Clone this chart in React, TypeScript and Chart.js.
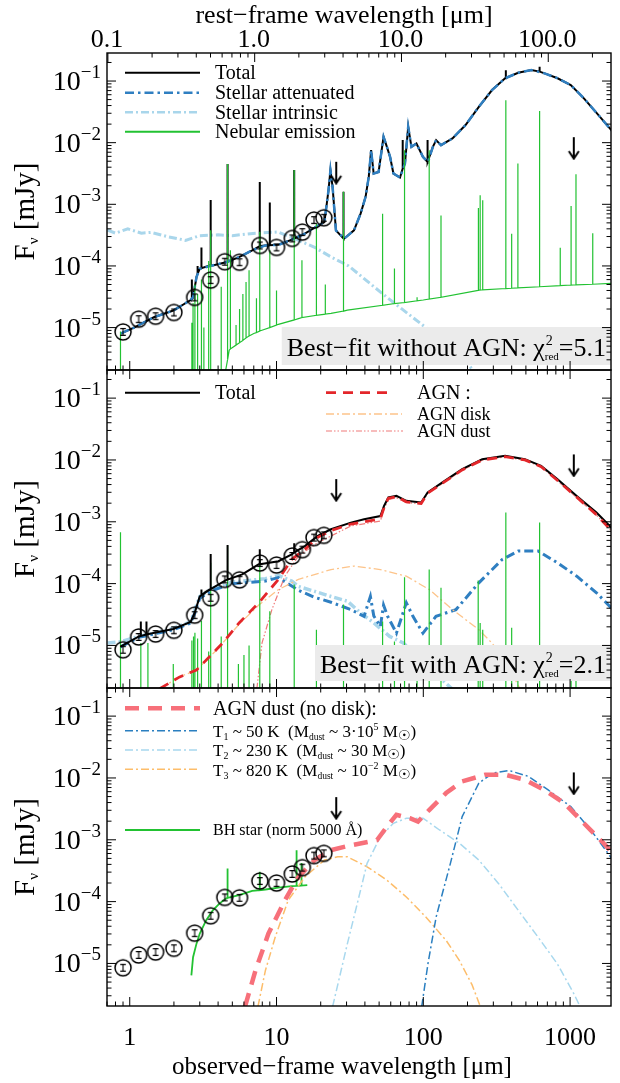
import React, { useEffect, useRef } from "react";
import { Chart, registerables } from "chart.js";

Chart.register(...registerables);

type Pt = [number, number];
type Spike = [number, number, number]; // [wavelength, base, peak]

// ---------- axes ----------
const X_MIN = 0.7;
const X_MAX = 1900;
const Y_MIN = 2.05e-6;
const Y_MAX = 0.285;
const ONE_PLUS_Z = 7.1;
const obsTicks = [1, 10, 100, 1000];
const obsTickLabels = ["1", "10", "100", "1000"];
const restTicks = [0.1, 1, 10, 100];
const restTickLabels = ["0.1", "1.0", "10.0", "100.0"];
const yTickExponents = [-1, -2, -3, -4, -5];

// ---------- photometry ----------
const photLambda = [0.9, 1.15, 1.5, 2.0, 2.77, 3.56, 4.44, 5.6, 7.7, 10.0, 12.8, 15.0, 18.0, 21.0];
const photFlux = [8.5e-6, 1.37e-5, 1.53e-5, 1.76e-5, 3.09e-5, 5.9e-5, 1.17e-4, 1.15e-4, 2.15e-4, 2.0e-4, 2.8e-4, 3.54e-4, 5.55e-4, 6.04e-4];
const limLambda = [25.5, 1060];
const limFlux = [4.9e-3, 1.23e-2];

// ---------- panel 1: without AGN ----------
const stellarAttTop: Pt[] = [
  [0.865, 8.0e-6], [1.07, 1.0e-5], [1.46, 1.47e-5], [1.98, 1.89e-5], [2.57, 2.75e-5], [2.7, 3.1e-5],
  [2.85, 6.6e-5], [3.0, 9.0e-5], [3.68, 1.02e-4], [4.52, 1.15e-4], [5.56, 1.39e-4], [6.83, 1.79e-4],
  [8.4, 2.15e-4], [10.3, 2.2e-4], [12.7, 2.67e-4], [15.6, 3.34e-4], [18.2, 4.2e-4], [21.2, 5.15e-4],
  [22.6, 1.69e-3], [23.3, 3.57e-3], [24.1, 1.91e-3], [25.4, 3.78e-4], [28.9, 2.77e-4], [33.7, 3.78e-4],
  [37.4, 7.06e-4], [40.4, 1.31e-3], [42.5, 2.78e-3], [44.1, 7.55e-3], [45.9, 3.16e-3], [49.6, 3.35e-3],
  [53.6, 1.24e-2], [56.5, 8.55e-3], [59.4, 5.87e-3], [62.6, 3.16e-3], [69.4, 2.72e-3], [75, 4.59e-3],
  [78.9, 1.81e-2], [83, 8.55e-3], [89.8, 9.7e-3], [99.5, 5.87e-3], [107.6, 4.87e-3], [116.2, 8.55e-3],
  [122.3, 1.1e-2], [132, 9.1e-3], [158, 1.17e-2], [194, 1.93e-2], [239, 3.82e-2], [294, 7.14e-2],
  [361, 0.111], [443, 0.136], [545, 0.151], [670, 0.133], [822, 0.111], [1011, 0.086], [1242, 0.0524],
  [1525, 0.0298], [1953, 0.015],
];
const totalTopSpikes: Spike[] = [
  [2.65, 2.9e-5, 6e-5], [2.9, 7.5e-5, 1.0e-4], [3.08, 9.2e-5, 2.0e-4], [3.56, 1.03e-4, 1.17e-3],
  [4.64, 1.17e-4, 4.5e-3], [7.69, 2.1e-4, 2.3e-3], [9.0, 2.17e-4, 1.07e-3], [13.2, 2.8e-4, 3.6e-3],
  [28.6, 2.8e-4, 1.6e-3], [72.4, 3.8e-3, 1.1e-2], [106.6, 4.9e-3, 1.1e-2], [365, 0.112, 0.15], [620, 0.142, 0.17],
];
const stellarIntTop: Pt[] = [
  [0.706, 3.8e-4], [0.8, 3.4e-4], [0.97, 4.0e-4], [1.2, 3.4e-4], [1.4, 3.5e-4], [1.8, 3.0e-4],
  [2.4, 2.6e-4], [3.0, 3.1e-4], [4.0, 3.2e-4], [5.0, 3.1e-4], [7.2, 3.4e-4], [10.3, 3.55e-4],
  [14.1, 2.6e-4], [18.2, 2.0e-4], [23.5, 1.4e-4], [31, 1.0e-4], [56.5, 3.1e-5], [104, 1.0e-5],
  [194, 2.9e-6], [240, 1.5e-6],
];
const nebContTop: Pt[] = [
  [4.4, 1.5e-6], [4.76, 4.3e-6], [7.0, 8.0e-6], [10.3, 1.13e-5], [14.1, 1.4e-5], [23.5, 1.7e-5],
  [30.4, 1.92e-5], [100, 2.8e-5], [239, 4.05e-5], [1900, 5.2e-5],
];
const nebSpikesTop: Spike[] = [
  [0.865, 1e-7, 8.6e-6], [2.65, 1e-7, 1.2e-5], [2.7, 1e-7, 2.5e-5], [2.78, 1e-7, 5.0e-5], [2.9, 1e-7, 3.5e-5],
  [3.08, 1e-7, 6e-5], [3.2, 1e-7, 1.0e-5], [3.45, 1e-7, 1.2e-4], [3.56, 1e-7, 3.8e-4], [4.2, 1e-7, 4.6e-5],
  [4.64, 3e-6, 4.5e-3], [4.85, 4.5e-6, 1.8e-4], [5.3, 5.2e-6, 1.1e-5], [5.6, 5.7e-6, 2.0e-5], [5.9, 6.2e-6, 3.5e-5],
  [6.2, 6.8e-6, 5.5e-5], [6.5, 7.3e-6, 8.5e-5], [7.3, 8.3e-6, 3.0e-5], [7.69, 8.8e-6, 3.6e-4], [9.0, 1.0e-5, 1.8e-4],
  [10.0, 1.1e-5, 4.0e-5], [13.2, 1.33e-5, 3.6e-3], [14.9, 1.45e-5, 1.24e-4], [18.7, 1.58e-5, 4.9e-4],
  [21.5, 1.65e-5, 5.0e-5], [28.6, 1.85e-5, 1.6e-3], [52.8, 2.3e-5, 7.06e-4], [63.6, 2.45e-5, 9.1e-5],
  [74.5, 2.55e-5, 7.55e-3], [90.7, 2.72e-5, 3.11e-5], [109.7, 2.9e-5, 7.55e-3], [132, 3.1e-5, 6.6e-4],
  [236.6, 4.0e-5, 8.7e-4], [244, 4.07e-5, 1.4e-3], [254, 4.1e-5, 1.16e-3], [365, 4.3e-5, 0.049],
  [400, 4.35e-5, 3.34e-4], [441, 4.4e-5, 4.6e-3], [620, 4.6e-5, 0.0325], [857, 4.8e-5, 1.98e-4],
  [1016, 4.9e-5, 9.4e-4], [1097, 4.95e-5, 3.08e-3], [1427, 5.05e-5, 3.4e-4],
];

// ---------- panel 2: with AGN ----------
const totalMid: Pt[] = [
  [0.865, 9.6e-6], [1.155, 1.4e-5], [1.53, 1.63e-5], [1.98, 1.85e-5], [2.6, 2.4e-5], [2.77, 3.36e-5],
  [3.0, 6.2e-5], [3.68, 8.55e-5], [4.52, 1.14e-4], [5.84, 1.41e-4], [7.57, 2.05e-4], [10.3, 2.3e-4],
  [12.7, 2.97e-4], [15.6, 4.05e-4], [19.1, 5.9e-4], [23.5, 7.56e-4], [32.1, 9.7e-4], [39.5, 1.1e-3],
  [51, 1.24e-3], [54, 1.8e-3], [57.8, 2.47e-3], [65.6, 2.62e-3], [76.6, 2.18e-3], [96.7, 2.05e-3],
  [107, 2.98e-3], [135, 4.33e-3], [184, 7.1e-3], [252, 1.03e-2], [361, 1.17e-2], [492, 1.03e-2],
  [635, 8.05e-3], [818, 4.9e-3], [1110, 2.62e-3], [1513, 1.41e-3], [1960, 7.56e-4],
];
const totalMidSpikes: Spike[] = [
  [1.19, 1.42e-5, 2.45e-5], [1.3, 1.5e-5, 2.45e-5], [3.08, 6.5e-5, 8.0e-5], [3.56, 8.2e-5, 3.0e-4],
  [4.64, 1.16e-4, 4.2e-4], [7.69, 2.06e-4, 3.6e-4], [13.2, 3.2e-4, 4.5e-4],
];
const agnMid: Pt[] = [
  [1.6, 2.0e-6], [2.19, 3.1e-6], [2.85, 4.0e-6], [3.88, 8.5e-6], [4.29, 1.09e-5], [5.56, 2.31e-5],
  [7.57, 4.9e-5], [10.3, 1.17e-4], [12.7, 2.46e-4], [15.6, 3.58e-4], [19.1, 5.6e-4], [23.5, 7.2e-4],
  [32.1, 9.2e-4], [39.5, 1.0e-3], [51, 1.12e-3], [54, 1.7e-3], [57.8, 2.4e-3], [65.6, 2.55e-3],
  [76.6, 2.1e-3], [96.7, 1.98e-3], [107, 2.9e-3], [135, 4.2e-3], [184, 6.9e-3], [252, 1.0e-2],
  [361, 1.13e-2], [492, 1.0e-2], [635, 7.8e-3], [818, 4.7e-3], [1110, 2.5e-3], [1513, 1.3e-3], [1960, 6.8e-4],
];
const agnDiskMid: Pt[] = [
  [1.6, 2.0e-6], [2.19, 3.1e-6], [2.85, 4.0e-6], [3.88, 8.3e-6], [5.56, 2.2e-5], [7.57, 4.5e-5],
  [10.3, 8.0e-5], [14.1, 1.17e-4], [23.5, 1.69e-4], [33.7, 1.92e-4], [51, 1.69e-4], [76.6, 1.32e-4],
  [110, 8.0e-5], [158, 3.8e-5], [239, 1.8e-5], [294, 1.09e-5], [361, 5.8e-6], [455, 2.0e-6],
];
const agnDustMid: Pt[] = [
  [7.35, 2.0e-6], [7.96, 1.09e-5], [9.3, 3.8e-5], [11.4, 1.32e-4], [14.1, 2.79e-4], [19.1, 4.6e-4],
  [32.1, 8.55e-4], [51, 1.03e-3], [54, 1.6e-3], [57.8, 2.3e-3], [65.6, 2.45e-3], [76.6, 2.05e-3],
  [96.7, 1.95e-3], [107, 2.85e-3], [135, 4.15e-3], [184, 6.85e-3], [252, 9.9e-3], [361, 1.12e-2],
  [492, 9.9e-3], [635, 7.7e-3], [818, 4.65e-3], [1110, 2.45e-3], [1513, 1.28e-3], [1960, 6.7e-4],
];
const stellarAttMid: Pt[] = [
  [0.865, 9.5e-6], [1.15, 1.35e-5], [1.5, 1.55e-5], [1.98, 1.8e-5], [2.6, 2.3e-5], [2.77, 3.3e-5],
  [3.0, 5.8e-5], [3.67, 7.8e-5], [5.01, 1.0e-4], [8.4, 1.1e-4], [10.3, 1.25e-4], [14.1, 7.8e-5],
  [18.2, 6.0e-5], [23.5, 5.0e-5], [32.1, 3.8e-5], [39.5, 2.96e-5], [43.6, 6.2e-5], [46, 3.0e-5],
  [51, 2.03e-5], [53.6, 4.5e-5], [57, 3.0e-5], [65.6, 1.58e-5], [76.6, 4.9e-5], [85, 2.96e-5],
  [99.5, 1.58e-5], [122, 2.96e-5], [167, 3.8e-5], [239, 1.03e-4], [345, 2.46e-4], [443, 3.36e-4],
  [605, 3.36e-4], [818, 2.18e-4], [1110, 1.32e-4], [1513, 7.1e-5], [1960, 3.8e-5],
];
const stellarIntMid: Pt[] = [
  [0.706, 1.1e-5], [0.87, 1.15e-5], [1.15, 1.4e-5], [1.5, 1.6e-5], [1.98, 1.9e-5], [2.6, 2.4e-5],
  [2.8, 4.0e-5], [3.0, 6.2e-5], [3.7, 8.5e-5], [5.0, 1.06e-4], [7.0, 1.15e-4], [8.4, 1.2e-4],
  [10.3, 1.35e-4], [12.7, 1.1e-4], [14.1, 9.0e-5], [18.2, 7.5e-5], [23.5, 6.2e-5], [30.4, 5.2e-5],
  [37.2, 3.4e-5], [45.9, 2.33e-5], [59, 1.4e-5], [73, 1.1e-5], [100, 5.5e-6], [130, 3.0e-6], [164, 1.8e-6],
];
const nebSpikesMid: Spike[] = [
  [0.865, 1e-7, 6.8e-4], [1.19, 1e-7, 1.1e-5], [1.33, 1e-7, 1.1e-5], [1.98, 1e-7, 5e-6], [2.65, 1e-7, 1.2e-5],
  [2.72, 1e-7, 1.4e-5], [2.78, 1e-7, 1.6e-5], [2.9, 1e-7, 1.3e-5], [3.08, 1e-7, 2.5e-5], [3.45, 1e-7, 8e-6],
  [3.56, 1e-7, 2.18e-4], [4.2, 1e-7, 1.4e-5], [4.64, 1e-7, 4.1e-4], [5.5, 1e-7, 5e-6], [6.0, 1e-7, 7e-6],
  [6.5, 1e-7, 1.0e-5], [7.69, 1e-7, 2.5e-4], [9.0, 1e-7, 3.56e-5], [13.2, 1e-7, 9.7e-5], [18.7, 1e-7, 1.8e-5],
  [28.6, 1e-7, 4.6e-5], [52.8, 1e-7, 2.45e-5], [63.6, 1e-7, 1.16e-5], [74.5, 1e-7, 1.27e-4], [90.7, 1e-7, 4e-6],
  [109.7, 1e-7, 1.69e-4], [132, 1e-7, 8.55e-5], [236.6, 1e-7, 1.12e-4], [244, 1e-7, 2.3e-5], [254, 1e-7, 1.8e-5],
  [365, 1e-7, 1.41e-3], [400, 1e-7, 1.94e-5], [441, 1e-7, 4e-6], [620, 1e-7, 9.7e-4], [1016, 1e-7, 3e-6],
  [1097, 1e-7, 4e-6],
];

// ---------- panel 3: AGN dust decomposition ----------
const agnDustNoDisk: Pt[] = [
  [6.1, 2.0e-6], [7.19, 7.7e-6], [8.8, 3.03e-5], [11.4, 1.05e-4], [14.1, 2.51e-4], [18.2, 4.7e-4],
  [23.5, 6.8e-4], [30.4, 7.9e-4], [48.4, 9.9e-4], [56.5, 1.63e-3], [65.6, 2.53e-3], [81, 2.23e-3],
  [92, 1.97e-3], [110, 3.05e-3], [143, 5.7e-3], [184, 8.8e-3], [265, 1.13e-2], [361, 1.13e-2],
  [492, 9.35e-3], [670, 6.4e-3], [912, 3.92e-3], [1242, 1.85e-3], [1692, 8.8e-4], [1960, 6.0e-4],
];
const dustT1: Pt[] = [
  [97.5, 2.0e-6], [107.6, 9.9e-6], [122.3, 5.65e-5], [153, 4.16e-4], [184, 2.37e-3], [239, 8.26e-3],
  [298, 1.2e-2], [384, 1.32e-2], [520, 1.06e-2], [709, 6.4e-3], [1011, 3.44e-3], [1384, 1.44e-3], [1960, 4.7e-4],
];
const dustT2: Pt[] = [
  [24.1, 2.0e-6], [30.4, 2.09e-5], [35.5, 9.3e-5], [41.4, 4.16e-4], [51, 1.12e-3], [62.6, 1.85e-3],
  [76.6, 2.23e-3], [99.5, 2.23e-3], [129, 1.44e-3], [176, 8.8e-4], [239, 4.7e-4], [325, 1.97e-4],
  [443, 7.25e-5], [605, 2.67e-5], [818, 9.9e-6], [1064, 3.2e-6], [1170, 2.0e-6],
];
const dustT3: Pt[] = [
  [7.47, 2.0e-6], [8.4, 7.7e-6], [9.8, 2.67e-5], [12.0, 1.05e-4], [15.6, 2.51e-4], [21.2, 4.7e-4],
  [26.1, 5.3e-4], [30.4, 5.3e-4], [41.4, 3.66e-4], [56.5, 2.22e-4], [76.6, 1.19e-4], [104, 5.65e-5],
  [143, 2.36e-5], [176, 1.12e-5], [215, 4.5e-6], [245, 2.0e-6],
];
const bhStar: Pt[] = [
  [2.63, 6.4e-6], [2.7, 1.26e-5], [2.85, 2.09e-5], [3.0, 3.04e-5], [3.32, 5.0e-5], [3.68, 7.25e-5],
  [4.08, 9.3e-5], [4.52, 1.12e-4], [5.56, 1.27e-4], [6.83, 1.49e-4], [8.4, 1.57e-4], [10.3, 1.69e-4],
  [12.7, 1.78e-4], [16.2, 1.85e-4],
];
const bhStarSpikes: Spike[] = [
  [4.64, 1.15e-4, 3.44e-4], [7.69, 1.53e-4, 3.03e-4], [13.7, 1.8e-4, 6.8e-4], [14.8, 1.82e-4, 4.2e-4],
];

// ---------- layout ----------
const PLOT_LEFT = 107;
const PLOT_RIGHT = 618;
const PANELS = [
  { top: 53, bottom: 370 },
  { top: 370, bottom: 688 },
  { top: 688, bottom: 1006 },
];

const SERIF = "'Liberation Serif', 'Times New Roman', Times, serif";
const SYM = "'DejaVu Sans', 'Noto Sans', sans-serif";

const C_BLUE = "#2f7fc1";
const C_LBLUE = "#a9d6eb";
const C_GREEN = "#22c232";
const C_RED = "#e3262a";
const C_DISK = "#fdc48a";
const C_DUST = "#f07a7a";
const C_PINK = "#f7707a";
const C_T1 = "#2a7fc0";
const C_T2 = "#a8d8ee";
const C_T3 = "#fdbd6a";

const DASH_DOT = [9, 4, 2.5, 4];
const DASH_DOT_THIN = [8, 3, 2, 3];
const DASH_DOT_DOT = [6, 2, 1.5, 2, 1.5, 2];

const toXY = (arr: Pt[]) => arr.map(([x, y]) => ({ x, y }));

function withSpikes(cont: Pt[], spikes: Spike[]) {
  const items: { x: number; y: number; k: number }[] = [];
  let k = 0;
  cont.forEach(([x, y]) => items.push({ x, y, k: k++ }));
  spikes.forEach(([x, b, p]) => {
    items.push({ x, y: b, k: k++ });
    items.push({ x, y: p, k: k++ });
    items.push({ x, y: b, k: k++ });
  });
  items.sort((a, b) => a.x - b.x || a.k - b.k);
  return items.map(({ x, y }) => ({ x, y }));
}

function lineDs(data: any[], color: string, width: number, dash: number[] = []) {
  return {
    data,
    borderColor: color,
    backgroundColor: color,
    borderWidth: width,
    borderDash: dash,
    pointRadius: 0,
    pointHoverRadius: 0,
    fill: false,
    tension: 0,
  };
}

function makeCircleGlyph() {
  const c = document.createElement("canvas");
  c.width = 22;
  c.height = 22;
  const g = c.getContext("2d")!;
  g.strokeStyle = "#000";
  g.lineWidth = 1.5;
  g.beginPath();
  g.arc(11, 11, 8, 0, Math.PI * 2);
  g.stroke();
  g.lineWidth = 1.1;
  g.beginPath();
  g.moveTo(11, 7.6);
  g.lineTo(11, 14.4);
  g.moveTo(8.2, 7.6);
  g.lineTo(13.8, 7.6);
  g.moveTo(8.2, 14.4);
  g.lineTo(13.8, 14.4);
  g.stroke();
  return c;
}

function makeArrowGlyph() {
  const c = document.createElement("canvas");
  c.width = 16;
  c.height = 46;
  const g = c.getContext("2d")!;
  g.strokeStyle = "#000";
  g.lineWidth = 2;
  g.beginPath();
  g.moveTo(8, 23);
  g.lineTo(8, 44);
  g.stroke();
  g.beginPath();
  g.moveTo(3, 37);
  g.lineTo(8, 44.5);
  g.lineTo(13, 37);
  g.stroke();
  return c;
}

function buildDatasets(panel: number, glyphs: any) {
  const phot = {
    data: photLambda.map((x, i) => ({ x, y: photFlux[i] })),
    showLine: false,
    pointStyle: glyphs.circle,
    pointRadius: 8,
    borderColor: "#000",
  };
  const lims = {
    data: limLambda.map((x, i) => ({ x, y: limFlux[i] })),
    showLine: false,
    pointStyle: glyphs.arrow,
    pointRadius: 8,
    borderColor: "#000",
  };
  if (panel === 0) {
    return [
      phot,
      lims,
      lineDs(withSpikes(nebContTop, nebSpikesTop), C_GREEN, 1.2),
      lineDs(toXY(stellarAttTop), C_BLUE, 2.5, DASH_DOT),
      lineDs(withSpikes(stellarAttTop, totalTopSpikes), "#000", 2),
      lineDs(toXY(stellarIntTop), C_LBLUE, 3, DASH_DOT_THIN),
    ];
  }
  if (panel === 1) {
    return [
      phot,
      lims,
      lineDs(toXY(agnMid), C_RED, 2.8, [10, 7]),
      lineDs(withSpikes(totalMid, totalMidSpikes), "#000", 2),
      lineDs(withSpikes([], nebSpikesMid), C_GREEN, 1.2),
      lineDs(toXY(agnDustMid), C_DUST, 1.2, DASH_DOT_DOT),
      lineDs(toXY(agnDiskMid), C_DISK, 1.3, DASH_DOT_THIN),
      lineDs(toXY(stellarAttMid), C_BLUE, 3, DASH_DOT),
      lineDs(toXY(stellarIntMid), C_LBLUE, 3.5, DASH_DOT_THIN),
    ];
  }
  return [
    phot,
    lims,
    lineDs(toXY(agnDustNoDisk), C_PINK, 4.5, [14, 9]),
    lineDs(toXY(dustT1), C_T1, 1.5, DASH_DOT_THIN),
    lineDs(toXY(dustT2), C_T2, 1.5, DASH_DOT_THIN),
    lineDs(toXY(dustT3), C_T3, 1.5, DASH_DOT_THIN),
    lineDs(withSpikes(bhStar, bhStarSpikes), C_GREEN, 1.8),
  ];
}

type Part = { t?: string; s: number; dy?: number; ff?: string; sup?: string; sub?: string };

function partWidth(ctx: CanvasRenderingContext2D, p: Part) {
  if (p.sup !== undefined) {
    ctx.font = `14px ${SERIF}`;
    const a = ctx.measureText(p.sup).width;
    ctx.font = `11px ${SERIF}`;
    const b = ctx.measureText(p.sub || "").width;
    return Math.max(a, b);
  }
  ctx.font = `${p.s}px ${p.ff || SERIF}`;
  return ctx.measureText(p.t || "").width;
}

function drawRich(ctx: CanvasRenderingContext2D, parts: Part[], x: number, y: number, align: string) {
  const widths = parts.map((p) => partWidth(ctx, p));
  const total = widths.reduce((a, b) => a + b, 0);
  let cx = align === "left" ? x : align === "right" ? x - total : x - total / 2;
  ctx.textAlign = "left";
  ctx.textBaseline = "alphabetic";
  ctx.fillStyle = "#000";
  parts.forEach((p, i) => {
    if (p.sup !== undefined) {
      ctx.font = `14px ${SERIF}`;
      ctx.fillText(p.sup, cx + 1, y - 11);
      ctx.font = `11px ${SERIF}`;
      ctx.fillText(p.sub || "", cx, y + 4);
    } else {
      ctx.font = `${p.s}px ${p.ff || SERIF}`;
      ctx.fillText(p.t || "", cx, y + (p.dy || 0));
    }
    cx += widths[i];
  });
  return total;
}

function legendLine(ctx: CanvasRenderingContext2D, x1: number, x2: number, y: number, color: string, w: number, dash: number[] = []) {
  ctx.save();
  ctx.strokeStyle = color;
  ctx.lineWidth = w;
  ctx.setLineDash(dash);
  ctx.beginPath();
  ctx.moveTo(x1, y);
  ctx.lineTo(x2, y);
  ctx.stroke();
  ctx.restore();
}

function legendText(ctx: CanvasRenderingContext2D, text: string, x: number, y: number, size: number) {
  ctx.font = `${size}px ${SERIF}`;
  ctx.fillStyle = "#000";
  ctx.textAlign = "left";
  ctx.textBaseline = "alphabetic";
  ctx.fillText(text, x, y + size * 0.33);
}

function fitBox(ctx: CanvasRenderingContext2D, prefix: string, val: string, top: number, bottom: number, baseline: number) {
  const parts: Part[] = [{ t: prefix, s: 26 }, { t: "χ", s: 26 }, { s: 14, sup: "2", sub: "red" }, { t: "=" + val, s: 26 }];
  const w = parts.reduce((a, p) => a + partWidth(ctx, p), 0);
  const textRight = 606;
  ctx.fillStyle = "#ebebeb";
  ctx.fillRect(textRight - w - 5, top, w + 10, bottom - top);
  drawRich(ctx, parts, textRight, baseline, "right");
}

function massRow(T: string, idx: string, temp: string, mass: Part[]): Part[] {
  return [
    { t: T, s: 17 },
    { t: idx, s: 10, dy: 3 },
    { t: ` ~ ${temp} K  (M`, s: 17 },
    { t: "dust", s: 9.5, dy: 3 },
    ...mass,
    { t: " M", s: 17 },
    { t: "☉", s: 14, ff: SYM, dy: 3 },
    { t: ")", s: 17 },
  ];
}

function decorPlugin(panel: number) {
  return {
    id: "decor" + panel,
    afterDatasetsDraw(chart: any) {
      const ctx: CanvasRenderingContext2D = chart.ctx;
      const a = chart.chartArea;
      const xs = chart.scales.x;
      const ys = chart.scales.y;
      ctx.save();

      // legends and fit labels
      if (panel === 0) {
        fitBox(ctx, "Best−fit without AGN: ", "5.1", 327, 365, 356);
        legendLine(ctx, 125, 200, 72.7, "#000", 2);
        legendText(ctx, "Total", 215, 72.7, 20);
        legendLine(ctx, 125, 200, 92.7, C_BLUE, 2.5, DASH_DOT);
        legendText(ctx, "Stellar attenuated", 215, 92.7, 20);
        legendLine(ctx, 125, 200, 112.3, C_LBLUE, 2.5, DASH_DOT_THIN);
        legendText(ctx, "Stellar intrinsic", 215, 112.3, 20);
        legendLine(ctx, 125, 200, 131.7, C_GREEN, 2);
        legendText(ctx, "Nebular emission", 215, 131.7, 20);
      } else if (panel === 1) {
        fitBox(ctx, "Best−fit with AGN: ", "2.1", 645, 681, 673);
        legendLine(ctx, 125, 200, 392.7, "#000", 2);
        legendText(ctx, "Total", 215, 392.7, 20);
        legendLine(ctx, 326, 393, 392.7, C_RED, 2.8, [10, 7]);
        legendText(ctx, "AGN :", 417, 392.7, 20);
        legendLine(ctx, 326, 402, 414, C_DISK, 1.3, DASH_DOT_THIN);
        legendText(ctx, "AGN disk", 417, 414, 18);
        legendLine(ctx, 326, 403, 431, C_DUST, 1.2, DASH_DOT_DOT);
        legendText(ctx, "AGN dust", 417, 431, 18);
      } else {
        legendLine(ctx, 125, 200, 708.3, C_PINK, 4.5, [14, 9]);
        legendText(ctx, "AGN dust (no disk):", 213, 708.3, 20);
        legendLine(ctx, 125, 200, 730.7, C_T1, 1.5, DASH_DOT_THIN);
        drawRich(ctx, massRow("T", "1", "50", [{ t: " ~ 3·10", s: 17 }, { t: "5", s: 10, dy: -7 }]), 213, 736.5, "left");
        legendLine(ctx, 125, 200, 750, C_T2, 1.5, DASH_DOT_THIN);
        drawRich(ctx, massRow("T", "2", "230", [{ t: " ~ 30", s: 17 }]), 213, 756, "left");
        legendLine(ctx, 125, 200, 769.3, C_T3, 1.5, DASH_DOT_THIN);
        drawRich(ctx, massRow("T", "3", "820", [{ t: " ~ 10", s: 17 }, { t: "−2", s: 10, dy: -7 }]), 213, 775.5, "left");
        legendLine(ctx, 125, 200, 830, C_GREEN, 2);
        legendText(ctx, "BH star (norm 5000 Å)", 213, 830, 16);
      }

      // frame
      ctx.strokeStyle = "#000";
      ctx.lineWidth = 1.4;
      ctx.setLineDash([]);
      ctx.strokeRect(a.left, a.top, a.right - a.left, a.bottom - a.top);

      // x ticks
      ctx.lineWidth = 1;
      ctx.beginPath();
      for (let e = -1; e <= 3; e++) {
        for (let k = 1; k <= 9; k++) {
          const v = k * Math.pow(10, e);
          if (v < X_MIN || v > X_MAX) continue;
          const px = xs.getPixelForValue(v);
          const len = k === 1 ? 9 : 4.5;
          ctx.moveTo(px, a.bottom);
          ctx.lineTo(px, a.bottom - len);
          if (panel > 0) {
            ctx.moveTo(px, a.top);
            ctx.lineTo(px, a.top + len);
          }
        }
      }
      if (panel === 0) {
        for (let e = -1; e <= 2; e++) {
          for (let k = 1; k <= 9; k++) {
            const v = k * Math.pow(10, e) * ONE_PLUS_Z;
            if (v < X_MIN || v > X_MAX) continue;
            const px = xs.getPixelForValue(v);
            const len = k === 1 ? 9 : 4.5;
            ctx.moveTo(px, a.top);
            ctx.lineTo(px, a.top + len);
          }
        }
      }
      // y ticks
      for (let e = -6; e <= 0; e++) {
        for (let k = 1; k <= 9; k++) {
          const v = k * Math.pow(10, e);
          if (v < Y_MIN || v > Y_MAX) continue;
          const py = ys.getPixelForValue(v);
          const len = k === 1 ? 9 : 4.5;
          ctx.moveTo(a.left, py);
          ctx.lineTo(a.left + len, py);
          ctx.moveTo(a.right, py);
          ctx.lineTo(a.right - len, py);
        }
      }
      ctx.stroke();

      // y tick labels
      yTickExponents.forEach((e) => {
        const py = ys.getPixelForValue(Math.pow(10, e));
        drawRich(ctx, [{ t: "10", s: 28 }, { t: "−" + Math.abs(e), s: 19, dy: -12 }], 101, py + 9, "right");
      });

      // y title
      ctx.save();
      ctx.translate(24, (a.top + a.bottom) / 2);
      ctx.rotate(-Math.PI / 2);
      drawRich(ctx, [{ t: "F", s: 29 }, { t: "ν", s: 15, dy: 4 }, { t: " [mJy]", s: 29 }], 0, 10, "center");
      ctx.restore();

      // top axis (rest frame)
      if (panel === 0) {
        ctx.font = `26px ${SERIF}`;
        ctx.textAlign = "center";
        ctx.textBaseline = "alphabetic";
        ctx.fillStyle = "#000";
        restTicks.forEach((v, i) => {
          const px = xs.getPixelForValue(v * ONE_PLUS_Z);
          ctx.fillText(restTickLabels[i], px - 1, 47);
        });
        ctx.fillText("rest−frame wavelength [μm]", 344, 23);
      }
      // bottom axis (observed frame)
      if (panel === 2) {
        ctx.font = `26px ${SERIF}`;
        ctx.textAlign = "center";
        ctx.textBaseline = "alphabetic";
        ctx.fillStyle = "#000";
        obsTicks.forEach((v, i) => {
          const px = xs.getPixelForValue(v);
          ctx.fillText(obsTickLabels[i], px, 1045);
        });
        ctx.font = `25px ${SERIF}`;
        ctx.fillText("observed−frame wavelength [μm]", 342, 1074);
      }
      ctx.restore();
    },
  };
}

function makeConfig(panel: number, glyphs: any): any {
  const { top, bottom } = PANELS[panel];
  return {
    type: "line",
    data: { datasets: buildDatasets(panel, glyphs) },
    options: {
      animation: false,
      responsive: false,
      maintainAspectRatio: false,
      devicePixelRatio: 1,
      events: [],
      layout: { padding: { left: PLOT_LEFT, right: 620 - PLOT_RIGHT, top, bottom: 1083 - bottom } },
      plugins: { legend: { display: false }, tooltip: { enabled: false } },
      scales: {
        x: { type: "logarithmic", min: X_MIN, max: X_MAX, display: false },
        y: { type: "logarithmic", min: Y_MIN, max: Y_MAX, display: false },
      },
    },
    plugins: [decorPlugin(panel)],
  };
}

export default function App() {
  const refs = useRef<(HTMLCanvasElement | null)[]>([]);
  useEffect(() => {
    const glyphs = { circle: makeCircleGlyph(), arrow: makeArrowGlyph() };
    const charts = [0, 1, 2].map((i) => new Chart(refs.current[i] as HTMLCanvasElement, makeConfig(i, glyphs)));
    return () => charts.forEach((c) => c.destroy());
  }, []);
  return (
    <div style={{ position: "absolute", left: 0, top: 0, width: 620, height: 1083, background: "#fff" }}>
      {[0, 1, 2].map((i) => (
        <canvas
          key={i}
          ref={(el) => {
            refs.current[i] = el;
          }}
          width={620}
          height={1083}
          style={{ position: "absolute", left: 0, top: 0, width: 620, height: 1083, display: "block" }}
        />
      ))}
    </div>
  );
}
